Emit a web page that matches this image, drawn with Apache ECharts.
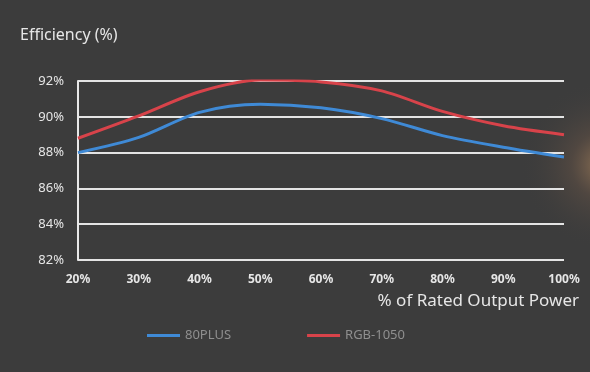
<!DOCTYPE html>
<html>
<head>
<meta charset="utf-8">
<script src="https://cdn.jsdelivr.net/npm/echarts@6/dist/echarts.min.js"></script>
<style>html,body{margin:0;padding:0;background:#3c3c3c;}#c{width:590px;height:372px;}</style>
</head>
<body>
<div id="c"></div>
<script>
var categories = ['20%','30%','40%','50%','60%','70%','80%','90%','100%'];
var plus80 = [88.0, 88.85, 90.25, 90.7, 90.5, 89.9, 88.95, 88.3, 87.75];
var rgb1050 = [88.8, 90.05, 91.4, 92.05, 91.95, 91.45, 90.3, 89.5, 89.0];
var seriesNames = ['80PLUS', 'RGB-1050'];
var yTitle = 'Efficiency (%)';
var xTitle = '% of Rated Output Power';

var chart = echarts.init(document.getElementById('c'));
var font = '"Noto Sans", "Open Sans", sans-serif';
chart.setOption({
  backgroundColor: '#3c3c3c',
  animation: false,
  grid: {left: 78, right: 26, top: 81, bottom: 112},
  graphic: [
    {type: 'circle', shape: {cx: 605, cy: 165, r: 85}, silent: true,
     style: {fill: {type: 'radial', x: 0.5, y: 0.5, r: 0.5, colorStops: [
       {offset: 0, color: 'rgba(255,190,120,0.45)'},
       {offset: 0.4, color: 'rgba(170,120,85,0.18)'},
       {offset: 1, color: 'rgba(60,60,60,0)'}]}}},
    {type: 'text', left: 20, top: 27, style: {text: yTitle, fill: '#e6e6e6', font: '16px ' + font}},
    {type: 'text', right: 11, top: 293, style: {text: xTitle, fill: '#e6e6e6', font: '17px ' + font}}
  ],
  legend: {
    left: 142, top: 324, itemWidth: 33, itemHeight: 3, itemGap: 76, icon: 'rect',
    textStyle: {color: '#8f8f8f', fontSize: 13, fontFamily: font},
    data: seriesNames
  },
  xAxis: {
    type: 'category', data: categories, boundaryGap: false,
    axisLine: {show: false}, axisTick: {show: false},
    axisLabel: {color: '#e6e6e6', fontSize: 12, fontWeight: 'bold', fontFamily: font, margin: 14},
    splitLine: {show: false}
  },
  yAxis: {
    type: 'value', min: 82, max: 92, interval: 2,
    axisLine: {show: true, lineStyle: {color: '#e8e8e8', width: 2}},
    axisTick: {show: false},
    axisLabel: {formatter: '{value}%', color: '#e6e6e6', fontSize: 13, fontFamily: font, margin: 14},
    splitLine: {lineStyle: {color: '#e4e4e4', width: 2}}
  },
  series: [
    {name: seriesNames[0], type: 'line', data: plus80, smooth: 0.3, symbol: 'none',
     itemStyle: {color: '#3f8ad6'}, lineStyle: {color: '#3f8ad6', width: 3}},
    {name: seriesNames[1], type: 'line', data: rgb1050, smooth: 0.3, symbol: 'none',
     itemStyle: {color: '#d8434a'}, lineStyle: {color: '#d8434a', width: 3}}
  ]
});
</script>
</body>
</html>
